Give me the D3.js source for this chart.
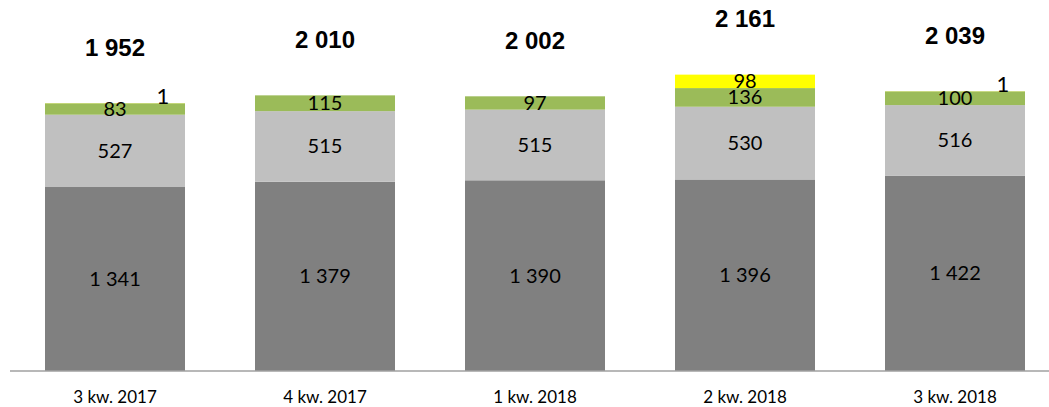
<!DOCTYPE html>
<html>
<head>
<meta charset="utf-8">
<script src="https://cdn.jsdelivr.net/npm/d3@7"></script>
<style>
  body { margin: 0; background: #fff; }
  svg text { font-family: Lato, "Open Sans", sans-serif; }
</style>
</head>
<body>
<svg id="chart" width="1049" height="407"></svg>
<script>
const categories = ["3 kw. 2017", "4 kw. 2017", "1 kw. 2018", "2 kw. 2018", "3 kw. 2018"];
const seriesKeys = ["base", "mid", "green", "yellow"];
const baseValues = [1341, 1379, 1390, 1396, 1422];
const midValues = [527, 515, 515, 530, 516];
const greenValues = [83, 115, 97, 136, 100];
const yellowValues = [1, 0, 0, 98, 1];
const totals = [1952, 2010, 2002, 2161, 2039];

const colors = { base: "#808080", mid: "#c0c0c0", green: "#9bbb59", yellow: "#ffff00" };

const rows = categories.map((c, i) => ({
  cat: c, base: baseValues[i], mid: midValues[i], green: greenValues[i], yellow: yellowValues[i], total: totals[i]
}));

const svg = d3.select("#chart");
const baseY = 371;
const fmt = v => d3.format(",")(v).replace(/,/g, " ");

const x = d3.scaleBand()
  .domain(categories)
  .range([10, 1060])
  .paddingInner(1 / 3)
  .paddingOuter(1 / 6);

const y = d3.scaleLinear()
  .domain([0, 2161])
  .range([baseY, 74.5]);

const stacked = d3.stack().keys(seriesKeys)(rows);

// bars
const layer = svg.append("g")
  .selectAll("g")
  .data(stacked)
  .enter().append("g")
    .attr("fill", d => colors[d.key]);

layer.selectAll("rect")
  .data(d => d.map(v => Object.assign(v, { key: d.key })))
  .enter().append("rect")
    .attr("x", d => x(d.data.cat))
    .attr("y", d => y(d[1]))
    .attr("width", x.bandwidth())
    .attr("height", d => y(d[0]) - y(d[1]));

// segment labels (tiny yellow values sit beside the bar top)
const isTiny = d => d.key === "yellow" && d[1] - d[0] < 10;

layer.selectAll("text")
  .data(d => d.filter(v => v[1] - v[0] > 0))
  .enter().append("text")
    .attr("x", d => x(d.data.cat) + x.bandwidth() / 2 + (isTiny(d) ? 48 : 0))
    .attr("y", d => isTiny(d) ? y(d[1]) - 7 : (y(d[0]) + y(d[1])) / 2)
    .attr("dy", "0.35em")
    .attr("text-anchor", "middle")
    .attr("fill", "#000")
    .attr("font-size", d => isTiny(d) ? 22 : 20)
    .text(d => fmt(d[1] - d[0]));

// totals
svg.append("g")
  .selectAll("text")
  .data(rows)
  .enter().append("text")
    .attr("x", d => x(d.cat) + x.bandwidth() / 2)
    .attr("y", d => y(d.total) - 56)
    .attr("dy", "0.35em")
    .attr("text-anchor", "middle")
    .style("font-family", "'Liberation Sans', Arial, sans-serif")
    .attr("font-weight", "bold")
    .attr("font-size", 24)
    .text(d => fmt(d.total));

// x axis
const xAxis = svg.append("g")
  .attr("transform", `translate(0,${baseY})`)
  .call(d3.axisBottom(x).tickSize(0).tickPadding(20));

xAxis.select(".domain")
  .attr("d", "M10,0H1049")
  .attr("stroke", "#a0a0a0")
  .attr("stroke-width", 1.5);

xAxis.selectAll("text")
  .attr("font-family", null)
  .attr("font-size", 17)
  .attr("fill", "#000");
</script>
</body>
</html>
